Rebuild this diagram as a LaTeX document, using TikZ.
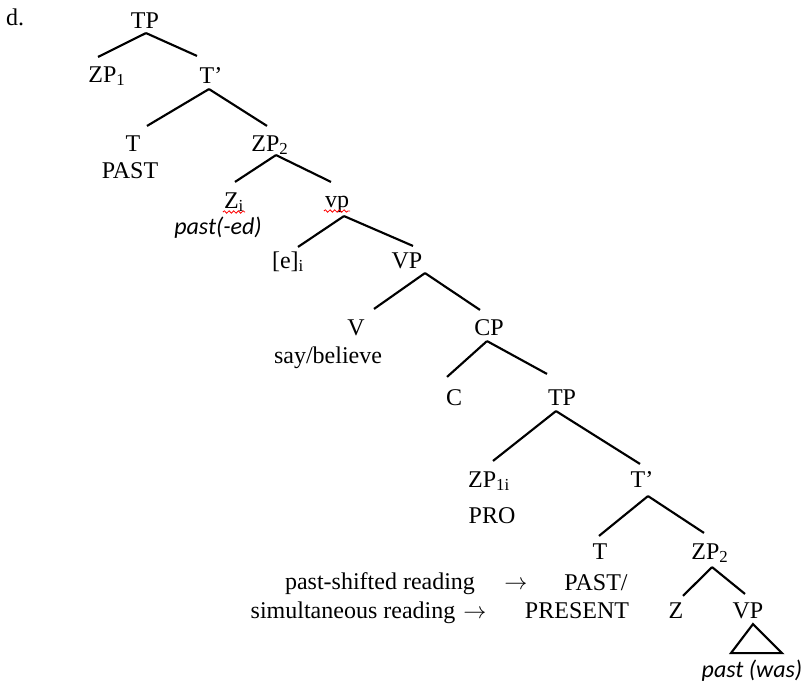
\documentclass[tikz,border=0pt]{standalone}
\usepackage{fontspec}
\setmainfont{Liberation Serif}
\newfontfamily\glossfont{Carlito}
\usetikzlibrary{decorations.pathmorphing}

\begin{document}
\begin{tikzpicture}[x=0.75pt,y=-0.75pt,line width=1.6pt,
        font=\fontsize{18}{21}\selectfont,
        cat/.style={inner sep=0pt,text height=12pt,text depth=0pt,anchor=base},
        txt/.style={inner sep=0pt,anchor=base},
        gloss/.style={txt,font=\fontsize{18}{21}\selectfont\glossfont\itshape},
        squig/.style={red,line width=0.6pt,decorate,decoration={snake,amplitude=0.9pt,segment length=3.5pt}}]
        \useasboundingbox (0,0) rectangle (807,689);
        \draw (5,25) node[txt,anchor=base west](label) {d.};
        \draw (145,28) node[cat](tp) {TP};
        \draw (107,82) node[cat](zpone) {ZP\textsubscript{1}};
        \draw (211,83) node[cat](tbar) {T’};
        \draw (133,151) node[cat](t) {T};
        \draw (130,178) node[txt](past) {PAST};
        \draw (270,151) node[cat](zptwo) {ZP\textsubscript{2}};
        \draw (234,208) node[cat](zi) {Z\textsubscript{i}};
        \draw (218,234) node[gloss](pasted) {past(-ed)};
        \draw (337,207) node[cat](vsmall) {vp};
        \draw (288,268) node[cat](ei) {[e]\textsubscript{i}};
        \draw (407,268) node[cat](vbig) {VP};
        \draw (356,335) node[cat](v) {V};
        \draw (328,363) node[txt](verb) {say/believe};
        \draw (489,335) node[cat](cp) {CP};
        \draw (454,405) node[cat](c) {C};
        \draw (562,405) node[cat](tplow) {TP};
        \draw (489,487) node[cat](zpsubj) {ZP\textsubscript{1i}};
        \draw (492,523) node[txt](pro) {PRO};
        \draw (642,487) node[cat](tbarlow) {T’};
        \draw (600,559) node[cat](tlow) {T};
        \draw (710,559) node[cat](zplow) {ZP\textsubscript{2}};
        \draw (596,590) node[txt](pastp) {PAST/};
        \draw (577,618) node[txt](pres) {PRESENT};
        \draw (676,618) node[cat](z) {Z};
        \draw (748,618) node[cat](vplow) {VP};
        \draw (752,677) node[gloss](was) {past (was)};
        \draw (380,589) node[txt](shifted) {past-shifted reading};
        \draw (516,589) node[txt](arrshift) {$\rightarrow$};
        \draw (353,618) node[txt](simul) {simultaneous reading};
        \draw (475,618) node[txt](arrsim) {$\rightarrow$};
        % branches
        \draw ([shift={(1,4)}]tp.south) -- ([shift={(-9,-8)}]zpone.north);
        \draw ([shift={(1,4)}]tp.south) -- ([shift={(-14,-10)}]tbar.north);
        \draw ([shift={(-2,5)}]tbar.south) -- ([shift={(14,-8)}]t.north);
        \draw ([shift={(-2,5)}]tbar.south) -- ([shift={(-3,-8)}]zptwo.north);
        \draw ([shift={(6,3)}]zptwo.south) -- ([shift={(1,-9)}]zi.north);
        \draw ([shift={(6,3)}]zptwo.south) -- ([shift={(-6,-8)}]vsmall.north);
        \draw ([shift={(7,8)}]vsmall.south) -- ([shift={(10,-4)}]ei.north);
        \draw ([shift={(7,8)}]vsmall.south) -- ([shift={(6,-5)}]vbig.north);
        \draw ([shift={(18,4)}]vbig.south) -- ([shift={(18,-9)}]v.north);
        \draw ([shift={(18,4)}]vbig.south) -- ([shift={(-9,-8)}]cp.north);
        \draw ([shift={(-2,5)}]cp.south) -- ([shift={(-7,-11)}]c.north);
        \draw ([shift={(-2,5)}]cp.south) -- ([shift={(-15,-14)}]tplow.north);
        \draw ([shift={(-6,5)}]tplow.south) -- ([shift={(4,-9)}]zpsubj.north);
        \draw ([shift={(-6,5)}]tplow.south) -- ([shift={(-2,-6)}]tbarlow.north);
        \draw ([shift={(6,8)}]tbarlow.south) -- ([shift={(-1,-6)}]tlow.north);
        \draw ([shift={(6,8)}]tbarlow.south) -- ([shift={(-6,-9)}]zplow.north);
        \draw ([shift={(2,7)}]zplow.south) -- ([shift={(7,-5)}]z.north);
        \draw ([shift={(2,7)}]zplow.south) -- ([shift={(-3,-7)}]vplow.north);
        % triangle
        \draw ([shift={(5,5)}]vplow.south) -- ([shift={(-17,34)}]vplow.south) -- ([shift={(34,34)}]vplow.south) -- cycle;
        % spell-check marks
        \draw[squig] ([shift={(0,4)}]zi.base west) -- ([shift={(0,4)}]zi.base east);
        \draw[squig] ([shift={(0,4)}]vsmall.base west) -- ([shift={(0,4)}]vsmall.base east);
    \end{tikzpicture}
\end{document}
